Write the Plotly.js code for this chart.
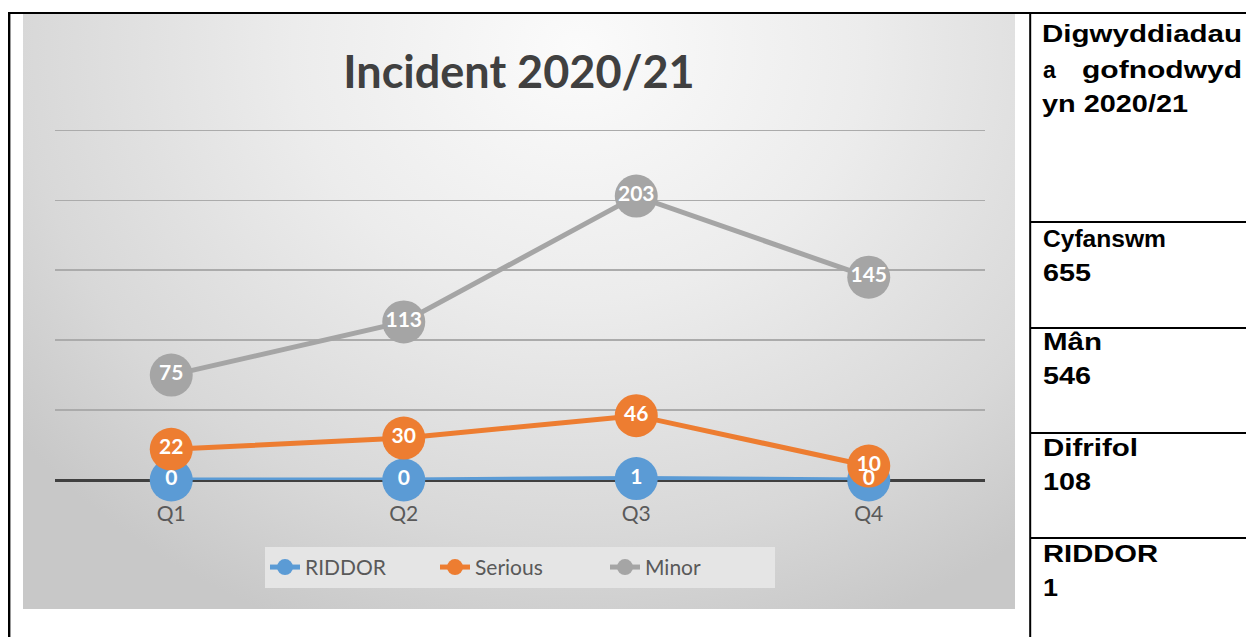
<!DOCTYPE html>
<html><head><meta charset="utf-8">
<script src="https://cdn.plot.ly/plotly-3.0.1.min.js"></script>
<style>
html,body{margin:0;padding:0;background:#fff;width:1246px;height:637px;overflow:hidden;}
#chart{position:absolute;left:23px;top:14px;width:992px;height:595px;
background:radial-gradient(ellipse 72% 105% at 56% 6%, #fbfbfb 0%, #ececec 40%, #d8d8d8 78%, #c8c8c8 100%);}
#table{position:absolute;left:0;top:0;}
#table text{font-family:"Liberation Sans",Arial,sans-serif;font-weight:bold;font-size:23px;fill:#000;}
</style></head><body>
<div id="chart"></div>
<svg id="table" width="1246" height="637"></svg>
<script>
// ---- data ----
const quarters = ['Q1', 'Q2', 'Q3', 'Q4'];
const riddor = [0, 0, 1, 0];
const serious = [22, 30, 46, 10];
const minor = [75, 113, 203, 145];
const seriesNames = ['RIDDOR', 'Serious', 'Minor'];
const chartTitle = 'Incident 2020/21';
const panelHeading = ['Digwyddiadau', 'a', 'gofnodwyd', 'yn 2020/21'];
const summaryLabels = ['Cyfanswm', 'Mân', 'Difrifol', 'RIDDOR'];
const summaryValues = ['655', '546', '108', '1'];

// ---- styles ----
const colors = ['#5b9bd5', '#ed7d31', '#a5a5a5'];
const series = [riddor, serious, minor];
const chartFont = 'Lato, "Open Sans", sans-serif';

const traces = [];
series.forEach((vals, i) => {
  traces.push({
    type: 'scatter', mode: 'lines+markers', name: seriesNames[i],
    x: quarters, y: vals, cliponaxis: false,
    line: {color: colors[i], width: 5},
    marker: {color: colors[i], size: 43, line: {width: 0}},
    hoverinfo: 'skip'
  });
});
series.forEach((vals, i) => {
  traces.push({
    type: 'scatter', mode: 'text', showlegend: false,
    x: quarters, y: vals, text: vals.map(String), cliponaxis: false,
    textposition: 'middle center',
    textfont: {family: chartFont, size: 21, color: '#ffffff', weight: 'bold'},
    hoverinfo: 'skip'
  });
});

const layout = {
  width: 992, height: 595,
  paper_bgcolor: 'rgba(0,0,0,0)', plot_bgcolor: 'rgba(0,0,0,0)',
  margin: {l: 32, r: 30, t: 114.6, b: 129},
  title: {text: chartTitle, x: 0.5, xanchor: 'center', xref: 'container',
          y: 0.9025, yref: 'container', yanchor: 'middle',
          font: {family: chartFont, size: 45, color: '#404040', weight: 'bold'}},
  xaxis: {type: 'category', range: [-0.5, 3.5], showgrid: false, zeroline: false,
          showline: false, ticks: '', ticklabelstandoff: 19,
          tickfont: {family: chartFont, size: 21, color: '#595959'}},
  yaxis: {range: [0, 251], tick0: 0, dtick: 50, showticklabels: false,
          gridcolor: '#ababab', gridwidth: 1.5, zeroline: true,
          zerolinecolor: '#404040', zerolinewidth: 3, showline: false},
  legend: {orientation: 'h', x: 0.5, xanchor: 'center', y: -0.249, yanchor: 'middle',
           bgcolor: '#e5e5e5', font: {family: chartFont, size: 21, color: '#595959'},
           entrywidth: 125, entrywidthmode: 'pixels', traceorder: 'normal'},
  showlegend: true, hovermode: false
};
Plotly.newPlot('chart', traces, layout, {staticPlot: true, displayModeBar: false});

// ---- surrounding table (document layout) ----
const svg = document.getElementById('table');
const NS = 'http://www.w3.org/2000/svg';
function line(x1, y1, x2, y2, w) {
  const l = document.createElementNS(NS, 'line');
  l.setAttribute('x1', x1); l.setAttribute('y1', y1);
  l.setAttribute('x2', x2); l.setAttribute('y2', y2);
  l.setAttribute('stroke', '#000'); l.setAttribute('stroke-width', w);
  svg.appendChild(l);
}
function txt(s, x, y, len) {
  const t = document.createElementNS(NS, 'text');
  t.setAttribute('x', x); t.setAttribute('y', y);
  if (len) { t.setAttribute('textLength', len); t.setAttribute('lengthAdjust', 'spacingAndGlyphs'); }
  t.textContent = s;
  svg.appendChild(t);
}
line(9.2, 12, 9.2, 637, 2.4);
line(8, 13, 1246, 13, 2);
line(1030.2, 12, 1030.2, 637, 2);
[222, 328, 433, 538].forEach(y => line(1030, y, 1246, y, 2));

txt(panelHeading[0], 1042, 42, 200);
txt(panelHeading[1], 1043, 78);
txt(panelHeading[2], 1082, 78, 160);
txt(panelHeading[3], 1042, 112, 146);
const labelY = [247, 350, 456, 562];
const labelLen = [123, 59, 95, 115];
const valueLen = [48, 48, 48, 15];
summaryLabels.forEach((s, i) => {
  txt(s, 1043, labelY[i], labelLen[i]);
  txt(summaryValues[i], 1043, labelY[i] + 34, valueLen[i]);
});
</script>
</body></html>
